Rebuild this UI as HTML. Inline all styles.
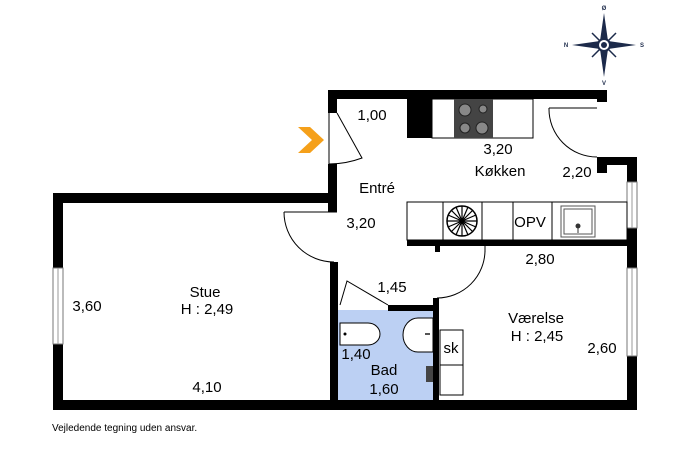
<!DOCTYPE html>
<html><head><meta charset="utf-8"><style>
html,body{margin:0;padding:0;background:#fff;}
svg{display:block;font-family:"Liberation Sans",sans-serif;}
</style></head><body>
<svg width="687" height="457" viewBox="0 0 687 457" xmlns="http://www.w3.org/2000/svg">
<rect width="687" height="457" fill="#fff"/>
<!-- bad fill -->
<rect x="338" y="310" width="95" height="90" fill="#bcd0f3"/>
<!-- walls -->
<g fill="#000">
<rect x="328" y="90" width="279" height="9"/>
<rect x="328" y="90" width="9" height="23"/>
<rect x="328" y="164" width="9" height="48"/>
<rect x="53" y="193" width="284" height="10"/>
<rect x="53" y="193" width="10" height="217"/>
<rect x="53" y="400" width="584" height="10"/>
<rect x="330" y="262" width="8" height="145"/>
<rect x="388" y="305" width="51" height="6"/>
<rect x="433" y="298" width="6" height="105"/>
<rect x="597" y="90" width="10" height="12"/>
<rect x="597" y="157" width="10" height="16"/>
<rect x="597" y="157" width="40" height="8"/>
<rect x="627" y="157" width="10" height="253"/>
<rect x="407" y="240" width="230" height="6"/>
<rect x="435" y="246" width="5" height="6"/>
<rect x="407" y="99" width="25" height="39"/>
</g>
<!-- windows -->
<g fill="#fff" stroke="#777" stroke-width="1">
<rect x="627" y="182" width="10" height="46"/>
<rect x="627" y="268" width="10" height="88"/>
<rect x="53" y="268" width="10" height="76"/>
</g>
<g stroke="#999" stroke-width="1"><line x1="632" y1="182" x2="632" y2="228"/><line x1="632" y1="268" x2="632" y2="356"/><line x1="58" y1="268" x2="58" y2="344"/></g>
<!-- counters -->
<g fill="none" stroke="#000" stroke-width="1">
<rect x="432" y="99" width="101" height="39"/>
<rect x="407" y="202" width="220" height="38"/>
<line x1="443" y1="202" x2="443" y2="240"/>
<line x1="482" y1="202" x2="482" y2="240"/>
<line x1="513" y1="202" x2="513" y2="240"/>
<line x1="552" y1="202" x2="552" y2="240"/>
<rect x="561" y="206" width="34" height="31" stroke="#555"/>
<rect x="564" y="209" width="28" height="25" stroke="#555"/>
<rect x="440" y="330" width="23" height="65"/>
<line x1="440" y1="365" x2="463" y2="365"/>
</g>
<circle cx="578" cy="226" r="2.5" fill="#333"/><line x1="578" y1="226" x2="578" y2="233" stroke="#333"/>
<!-- stove -->
<rect x="454" y="99" width="39" height="39" fill="#444"/>
<g fill="#888" stroke="#222"><circle cx="465" cy="110" r="6"/><circle cx="483" cy="109" r="4"/><circle cx="465" cy="128" r="5"/><circle cx="482" cy="128" r="6"/></g>
<!-- fan -->
<circle cx="462" cy="221" r="15" fill="#fff" stroke="#000" stroke-width="1.5"/>
<g stroke="#000" stroke-width="1.2">
<line x1="447" y1="221" x2="477" y2="221"/><line x1="462" y1="206" x2="462" y2="236"/>
<line x1="451" y1="210" x2="473" y2="232"/><line x1="473" y1="210" x2="451" y2="232"/>
<line x1="456" y1="207" x2="468" y2="235"/><line x1="468" y1="207" x2="456" y2="235"/>
<line x1="448" y1="215" x2="476" y2="227"/><line x1="448" y1="227" x2="476" y2="215"/>
</g>
<!-- doors -->
<g fill="none" stroke="#000" stroke-width="1">
<path d="M337 113 L362 158 Q346 164 329 164 L329 113"/>
<path d="M549 108 L597 108 M549 108 A48 48 0 0 0 597 157"/>
<path d="M284 212 L337 212 M284 212 A50 50 0 0 0 334 262"/>
<path d="M485 252 L485 246 M485 250 A48 48 0 0 1 437 298"/>
<path d="M388 305 L347 281 L340 305"/>
</g>
<!-- orange arrow -->
<polygon points="298,127 310,127 324,140 310,153 298,153 312,140" fill="#f5a01a"/>
<!-- bathroom fixtures -->
<g fill="#fff" stroke="#000" stroke-width="1">
<path d="M340 323 L368 323 A12 11 0 0 1 368 345 L340 345 Z"/>
<path d="M433 318 L418 318 A15 17 0 0 0 418 352 L433 352 Z"/>
</g>
<circle cx="345" cy="334" r="1.5" fill="#000"/>
<rect x="425" y="333" width="5" height="2" fill="#555"/>
<rect x="426" y="366" width="7" height="16" fill="#444"/>
<!-- compass -->
<g transform="translate(604,45)">
<g stroke="#1c2a4a" stroke-width="1.5"><line x1="-12" y1="-12" x2="12" y2="12"/><line x1="12" y1="-12" x2="-12" y2="12"/></g>
<polygon points="0,-32 4,-4 0,0 -4,-4" fill="#1c2a4a"/>
<polygon points="0,32 4,4 0,0 -4,4" fill="#1c2a4a"/>
<polygon points="-32,0 -4,-4 0,0 -4,4" fill="#1c2a4a"/>
<polygon points="32,0 4,-4 0,0 4,4" fill="#1c2a4a"/>
<circle r="6" fill="#fff" stroke="#1c2a4a" stroke-width="2"/><circle r="3" fill="#1c2a4a"/>
<g font-size="6" font-weight="bold" fill="#1c2a4a" text-anchor="middle"><text x="0" y="-35">Ø</text><text x="0" y="40">V</text><text x="-38" y="2">N</text><text x="38" y="2">S</text></g>
</g>
<!-- labels -->
<g font-size="15" fill="#000" text-anchor="middle">
<text x="372" y="120">1,00</text>
<text x="498" y="154">3,20</text>
<text x="500" y="176">Køkken</text>
<text x="577" y="177">2,20</text>
<text x="377" y="193">Entré</text>
<text x="361" y="228">3,20</text>
<text x="530" y="227">OPV</text>
<text x="540" y="264">2,80</text>
<text x="392" y="292">1,45</text>
<text x="205" y="297">Stue</text>
<text x="207" y="314">H : 2,49</text>
<text x="87" y="311">3,60</text>
<text x="207" y="392">4,10</text>
<text x="536" y="323">Værelse</text>
<text x="537" y="341">H : 2,45</text>
<text x="602" y="353">2,60</text>
<text x="356" y="359">1,40</text>
<text x="384" y="375">Bad</text>
<text x="384" y="394">1,60</text>
<text x="451" y="353">sk</text>
</g>
<text x="52" y="431" font-size="10">Vejledende tegning uden ansvar.</text>
</svg>
</body></html>
